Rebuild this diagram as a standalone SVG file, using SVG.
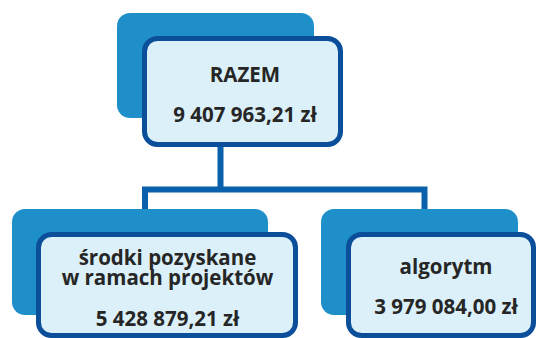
<svg xmlns="http://www.w3.org/2000/svg" width="536" height="338" viewBox="0 0 536 338">
<style>
.back{fill:#1f8fca}
.front{fill:#dbf0f8;stroke:#0b4f9b;stroke-width:5}
.conn{fill:none;stroke:#0a60aa;stroke-width:6}
text{font-family:"Open Sans","Liberation Sans",sans-serif;font-weight:bold;font-size:20.5px;fill:#262626;text-anchor:middle}
</style>
<rect width="536" height="338" fill="#ffffff"/>
<g id="connectors">
<path class="conn" d="M220.5 147V189.5M145 209V189.5H424.5V209"/>
</g>
<g id="razem">
<rect class="back" x="117" y="13" width="197" height="105" rx="13"/>
<rect class="front" x="144.5" y="38.5" width="196" height="106" rx="13"/>
<text x="245" y="82">RAZEM</text>
<text x="245" y="122">9 407 963,21 zł</text>
</g>
<g id="srodki">
<rect class="back" x="12" y="209" width="256" height="106" rx="13"/>
<rect class="front" x="38.5" y="234.5" width="257" height="101" rx="13"/>
<text x="167.5" y="265">środki pozyskane</text>
<text x="167.5" y="285">w ramach projektów</text>
<text x="167.5" y="326">5 428 879,21 zł</text>
</g>
<g id="algorytm">
<rect class="back" x="321" y="209" width="197" height="106" rx="13"/>
<rect class="front" x="348.5" y="234.5" width="185" height="101" rx="13"/>
<text x="446" y="274">algorytm</text>
<text x="446" y="314">3 979 084,00 zł</text>
</g>
</svg>
